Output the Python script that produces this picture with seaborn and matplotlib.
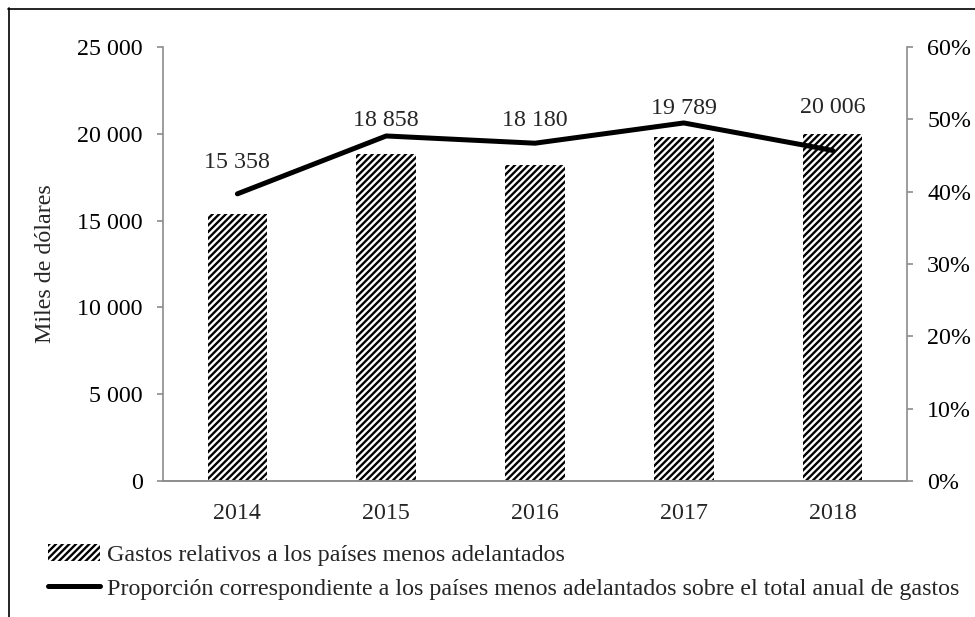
import pandas as pd
import matplotlib.pyplot as plt
import matplotlib.ticker as mticker
from matplotlib.patches import Patch
from matplotlib.lines import Line2D
import seaborn as sns

# data
years = ['2014', '2015', '2016', '2017', '2018']
gastos = [15358, 18858, 18180, 19789, 20006]          # miles de dólares
proporcion = [0.397, 0.477, 0.467, 0.495, 0.457]       # share of annual total
label_offsets = [37, 24, 32, 21, 19]                   # points above bar top

bar_label_name = 'Gastos relativos a los países menos adelantados'
line_label_name = ('Proporción correspondiente a los países menos adelantados '
                   'sobre el total anual de gastos')

df = pd.DataFrame({'year': years, 'gastos': gastos, 'prop': proporcion})

FS = 17.3
sns.set_style('white')
plt.rcParams['font.family'] = ['Liberation Serif', 'DejaVu Serif']
plt.rcParams['font.size'] = FS
plt.rcParams['hatch.linewidth'] = 1.7

gray = '#8c8c8c'
fig = plt.figure(figsize=(9.75, 6.17), dpi=100)
ax = fig.add_axes([163 / 975, 136 / 617, 744 / 975, 434 / 617])

sns.barplot(data=df, x='year', y='gastos', ax=ax, color='white', width=0.4,
            edgecolor='black', linewidth=0, hatch='/////', errorbar=None)

for bar, v, off in zip(ax.containers[0], gastos, label_offsets):
    ax.annotate(f'{v:,}'.replace(',', ' '),
                (bar.get_x() + bar.get_width() / 2, bar.get_height()),
                xytext=(0, off), textcoords='offset points',
                ha='center', va='center', fontsize=FS)

ax.set_xlim(-0.5, 4.5)
ax.set_ylim(0, 25000)
ax.yaxis.set_major_locator(mticker.MultipleLocator(5000))
ax.yaxis.set_major_formatter(mticker.FuncFormatter(lambda v, p: f'{int(v):,}'.replace(',', ' ')))
ax.set_xlabel('')
ax.set_ylabel('Miles de dólares', fontsize=FS)
ax.yaxis.set_label_coords(-0.1435, 0.5)

ax2 = ax.twinx()
sns.lineplot(data=df, x='year', y='prop', ax=ax2, color='black', linewidth=3.6)
ax2.set_ylim(0, 0.6)
ax2.yaxis.set_major_locator(mticker.MultipleLocator(0.1))
ax2.yaxis.set_major_formatter(mticker.PercentFormatter(1.0, decimals=0))
ax2.set_ylabel('')
ax2.set_xlabel('')

for a in (ax, ax2):
    a.spines['top'].set_visible(False)
    for s in ('left', 'right', 'bottom'):
        a.spines[s].set_color(gray)
        a.spines[s].set_linewidth(1.2)
    a.tick_params(axis='y', colors=gray, labelcolor='black', length=4.5,
                  width=1.2, direction='out', pad=10, labelsize=FS)
    a.tick_params(axis='x', length=0, pad=16, labelsize=FS)
ax.spines['right'].set_visible(False)
ax2.spines['left'].set_visible(False)

handles = [Patch(facecolor='white', edgecolor='black', linewidth=0, hatch='/////'),
           Line2D([0], [0], color='black', linewidth=3.6)]
fig.legend(handles, [bar_label_name, line_label_name], loc='upper left',
           bbox_to_anchor=(48 / 975, 1 - 544 / 617), frameon=False,
           borderpad=0, borderaxespad=0, handlelength=2.17, handletextpad=0.3,
           labelspacing=0.5, fontsize=FS)

# outer frame (top and left edges visible in the reference)
fig.add_artist(Line2D([8 / 975, 1], [1 - 8.5 / 617] * 2, transform=fig.transFigure,
                      color='black', linewidth=1.2))
fig.add_artist(Line2D([8.5 / 975] * 2, [0, 1 - 8 / 617], transform=fig.transFigure,
                      color='black', linewidth=1.2))

fig.savefig('out.png', dpi=100)
